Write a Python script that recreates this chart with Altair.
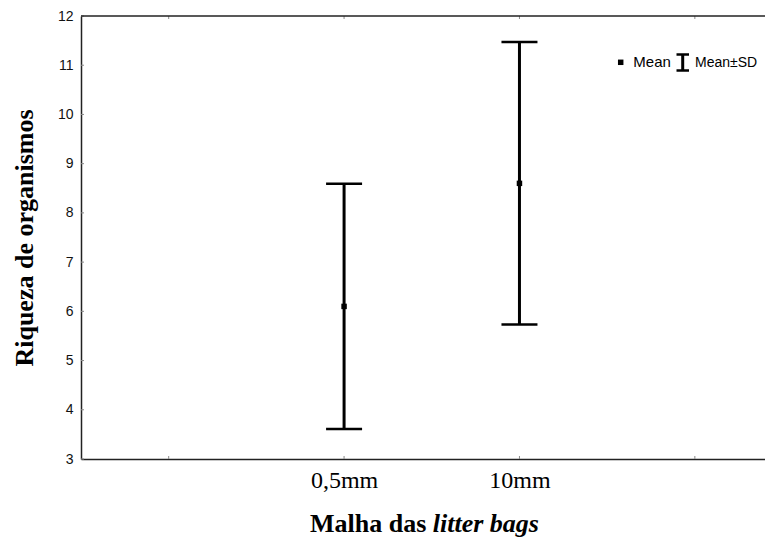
import altair as alt
import pandas as pd

# ---- data ----
categories = ["0,5mm", "10mm"]
means = [6.10, 8.60]
sds = [2.49, 2.87]

y_ticks = [3, 4, 5, 6, 7, 8, 9, 10, 11, 12]
x_ticks = [1, 3, 5, 7]
x_domain = [0, 7.80]
y_domain = [3, 12]

xpos = [3 + 2 * i for i in range(len(categories))]

df = pd.DataFrame({
    "cat": categories,
    "xpos": xpos,
    "mean": means,
    "lower": [m - s for m, s in zip(means, sds)],
    "upper": [m + s for m, s in zip(means, sds)],
})

W, H = 684, 443

label_expr = " : ".join(
    [f"datum.value == {p} ? '{c}'" for p, c in zip(xpos, categories)]
) + " : ''"

xs = alt.Scale(domain=x_domain, zero=False, nice=False)
ys = alt.Scale(domain=y_domain, zero=False, nice=False)

x_axis = alt.Axis(
    values=xpos, labelExpr=label_expr, title="", ticks=False, tickSize=0,
    domain=True, domainColor="#222", domainWidth=1.5, grid=False,
    labelFont="Liberation Serif", labelFontSize=24,
    labelColor="black", labelPadding=9)
y_axis = alt.Axis(
    values=y_ticks, title="Riqueza de organismos", ticks=False, tickSize=0,
    domain=True, domainColor="#222", domainWidth=1.5, grid=False,
    labelFont="Liberation Sans", labelFontSize=14,
    labelColor="#111", labelPadding=8, titleFont="Liberation Serif",
    titleFontSize=26, titleFontWeight="bold", titleColor="black",
    titlePadding=20)


def X(f):
    return alt.X(f, scale=xs, axis=x_axis, title="")


def Y(f):
    return alt.Y(f, scale=ys, axis=y_axis, title="Riqueza de organismos")


bars = alt.Chart(df).mark_rule(color="black", strokeWidth=3).encode(
    x=X("xpos:Q"), y=Y("lower:Q"), y2="upper:Q")

caps = alt.Chart(df).transform_fold(["lower", "upper"], as_=["k", "v"]).mark_tick(
    orient="horizontal", size=36, thickness=2.5, color="black", opacity=1
).encode(x=X("xpos:Q"), y=Y("v:Q"))

pts = alt.Chart(df).mark_square(size=30, color="black", opacity=1, filled=True).encode(
    x=X("xpos:Q"), y=Y("mean:Q"))

# inward axis ticks
yt = alt.Chart(pd.DataFrame({"t": y_ticks})).mark_rule(color="#888", strokeWidth=1).encode(
    y=Y("t:Q"), x=alt.value(0), x2=alt.value(3))
xtb = alt.Chart(pd.DataFrame({"t": x_ticks})).mark_rule(color="#888", strokeWidth=1).encode(
    x=X("t:Q"), y=alt.value(H - 3), y2=alt.value(H))
xtt = alt.Chart(pd.DataFrame({"t": x_ticks})).mark_rule(color="#888", strokeWidth=1).encode(
    x=X("t:Q"), y=alt.value(0), y2=alt.value(3))

one = alt.Data(values=[{"a": 1}])

# top frame line
top_line = alt.Chart(one).mark_rule(color="#222", strokeWidth=1.5).encode(
    x=alt.value(0), x2=alt.value(W), y=alt.value(0))

# legend
leg_sq = alt.Chart(one).mark_square(size=30, color="black", opacity=1, filled=True).encode(
    x=alt.value(539.7), y=alt.value(46.3))
leg_t1 = alt.Chart(one).mark_text(align="left", baseline="alphabetic", font="Liberation Sans",
                                  fontSize=15, color="black").encode(
    x=alt.value(552.3), y=alt.value(50.7), text=alt.value("Mean"))
leg_stem = alt.Chart(one).mark_rule(color="black", strokeWidth=3).encode(
    x=alt.value(601.7), y=alt.value(38.5), y2=alt.value(54.5))
leg_cap1 = alt.Chart(one).mark_rule(color="black", strokeWidth=2.5).encode(
    x=alt.value(595.5), x2=alt.value(608), y=alt.value(38.5))
leg_cap2 = alt.Chart(one).mark_rule(color="black", strokeWidth=2.5).encode(
    x=alt.value(595.5), x2=alt.value(608), y=alt.value(54.5))
leg_t2 = alt.Chart(one).mark_text(align="left", baseline="alphabetic", font="Liberation Sans",
                                  fontSize=14, color="black").encode(
    x=alt.value(614), y=alt.value(50.7), text=alt.value("Mean±SD"))

# x-axis title with italic part
xt1 = alt.Chart(one).mark_text(align="right", baseline="alphabetic", font="Liberation Serif",
                               fontSize=26, fontWeight="bold", color="black").encode(
    x=alt.value(345.3), y=alt.value(516), text=alt.value("Malha das"))
xt2 = alt.Chart(one).mark_text(align="left", baseline="alphabetic", font="Liberation Serif",
                               fontSize=26, fontWeight="bold", fontStyle="italic",
                               color="black").encode(
    x=alt.value(351.8), y=alt.value(516), text=alt.value("litter bags"))

chart = alt.layer(
    bars, caps, pts, yt, xtb, xtt, top_line,
    leg_sq, leg_t1, leg_stem, leg_cap1, leg_cap2, leg_t2, xt1, xt2
).properties(
    width=W, height=H,
    autosize=alt.AutoSizeParams(type="none"),
    padding={"left": 73, "top": 8, "right": 0, "bottom": 82},
    background="white",
).configure_view(stroke=None)

chart.save("out.html", embed_options={"renderer": "svg", "actions": False})
